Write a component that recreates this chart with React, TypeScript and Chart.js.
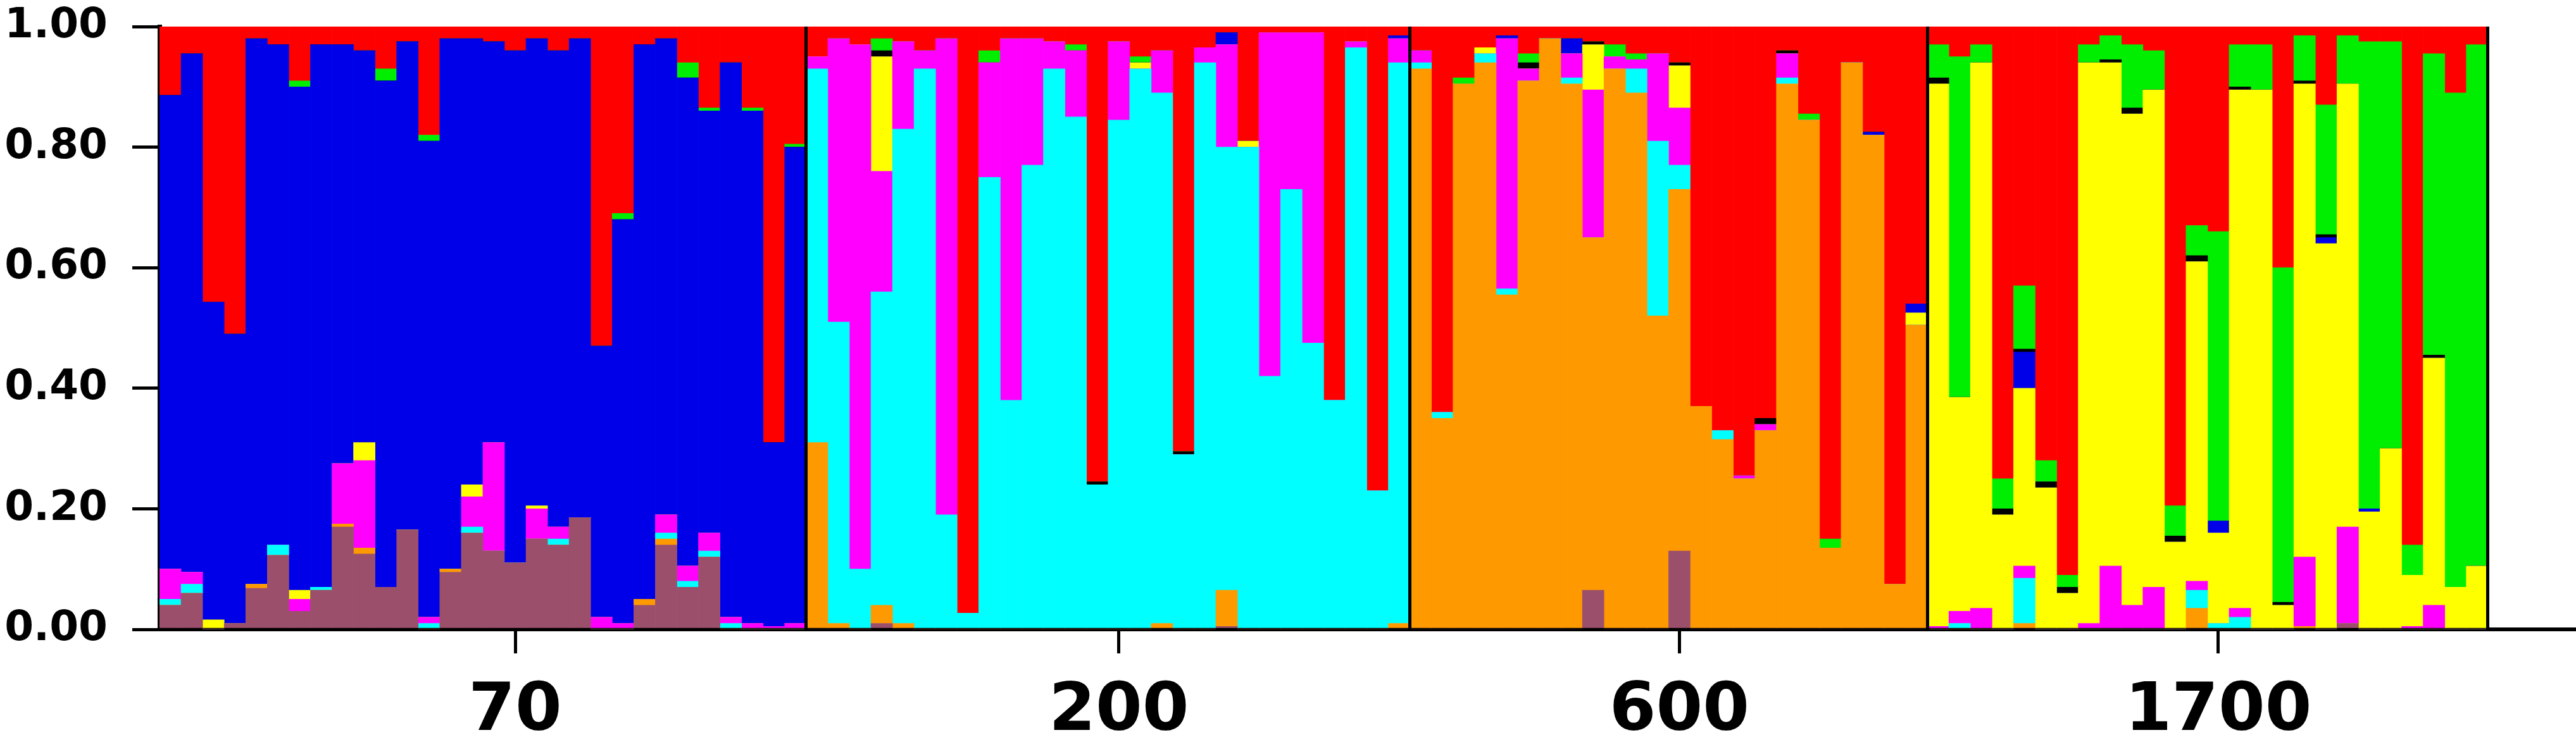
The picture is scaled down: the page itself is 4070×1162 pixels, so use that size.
import React, { useRef, useEffect } from 'react';
import { Chart, registerables } from 'chart.js';

Chart.register(...registerables);

// membership coefficients per individual, bottom cluster first
const brown70 = [.04, .06, 0, .01, .068, .123, .03, .065, .17, .125, .07, .165, 0, .095, .16, .13, .11, .15, .14, .185, 0, 0, .04, .14, .07, .12, 0, 0, 0, 0];
const orange70 = [0, 0, 0, 0, .007, 0, 0, 0, .005, .01, 0, 0, 0, .005, 0, 0, 0, 0, 0, 0, 0, 0, .01, .01, 0, 0, 0, 0, 0, 0];
const cyan70 = [.01, .015, 0, 0, 0, .017, 0, .005, 0, 0, 0, 0, .01, 0, .01, 0, 0, 0, .01, 0, 0, 0, 0, .01, .01, .01, .01, 0, 0, 0];
const pink70 = [.05, .02, 0, 0, 0, 0, .02, 0, .10, .145, 0, 0, .01, 0, .05, .18, 0, .05, .02, 0, .02, .01, 0, .03, .025, .03, .01, .01, .005, .01];
const yellow70 = [0, 0, .016, 0, 0, 0, .015, 0, 0, .03, 0, 0, 0, 0, .02, 0, 0, .005, 0, 0, 0, 0, 0, 0, 0, 0, 0, 0, 0, 0];
const blue70 = [.786, .86, .527, .48, .905, .83, .835, .90, .695, .65, .84, .81, .79, .88, .74, .665, .85, .775, .79, .795, .45, .67, .92, .79, .81, .70, .92, .85, .305, .79];
const black70 = [0, 0, 0, 0, 0, 0, 0, 0, 0, 0, 0, 0, 0, 0, 0, 0, 0, 0, 0, 0, 0, 0, 0, 0, 0, 0, 0, 0, 0, 0];
const green70 = [0, 0, 0, 0, 0, 0, .01, 0, 0, 0, .02, 0, .01, 0, 0, 0, 0, 0, 0, 0, 0, .01, 0, 0, .025, .005, 0, .005, 0, .005];
const red70 = [.114, .045, .457, .51, .02, .03, .09, .03, .03, .04, .07, .025, .18, .02, .02, .025, .04, .02, .04, .02, .53, .31, .03, .02, .06, .135, .06, .135, .69, .195];

const brown200 = [0, 0, 0, .01, 0, 0, 0, 0, 0, 0, 0, 0, 0, 0, 0, 0, 0, 0, 0, .005, 0, 0, 0, 0, 0, 0, 0, 0];
const orange200 = [.31, .01, 0, .03, .01, 0, 0, 0, 0, 0, 0, 0, 0, 0, 0, 0, .01, 0, 0, .06, 0, 0, 0, 0, 0, 0, 0, .01];
const cyan200 = [.62, .50, .10, .52, .82, .93, .19, .027, .75, .38, .77, .93, .85, .24, .845, .93, .88, .29, .94, .735, .80, .42, .73, .475, .38, .965, .23, .93];
const pink200 = [.02, .47, .87, .20, .145, .03, .79, 0, .19, .60, .21, .045, .11, 0, .13, 0, .07, 0, .025, .17, 0, .57, .26, .515, 0, .01, 0, .04];
const yellow200 = [0, 0, 0, .19, 0, 0, 0, 0, 0, 0, 0, 0, 0, 0, 0, .01, 0, 0, 0, 0, .01, 0, 0, 0, 0, 0, 0, 0];
const blue200 = [0, 0, 0, 0, 0, 0, 0, 0, 0, 0, 0, 0, 0, 0, 0, 0, 0, 0, 0, .02, 0, 0, 0, 0, 0, 0, 0, .005];
const black200 = [0, 0, 0, .01, 0, 0, 0, 0, 0, 0, 0, 0, 0, .005, 0, 0, 0, .005, 0, 0, 0, 0, 0, 0, 0, 0, 0, 0];
const green200 = [0, 0, 0, .02, 0, 0, 0, 0, .02, 0, 0, 0, .01, 0, 0, .01, 0, 0, 0, 0, 0, 0, 0, 0, 0, 0, 0, 0];
const red200 = [.05, .02, .03, .02, .025, .04, .02, .973, .04, .02, .02, .025, .03, .755, .025, .05, .04, .705, .035, .01, .19, .01, .01, .01, .62, .025, .77, .015];

const brown600 = [0, 0, 0, 0, 0, 0, 0, 0, .065, 0, 0, 0, .13, 0, 0, 0, 0, 0, 0, 0, 0, 0, 0, 0];
const orange600 = [.93, .35, .905, .94, .555, .91, .98, .905, .585, .93, .89, .52, .60, .37, .315, .25, .33, .905, .845, .135, .94, .82, .075, .505];
const cyan600 = [.01, .01, 0, .015, .01, 0, 0, .01, 0, 0, .04, .29, .04, 0, .015, 0, 0, .01, 0, 0, 0, 0, 0, 0];
const pink600 = [.02, 0, 0, 0, .415, .02, 0, .04, .245, .02, .015, .145, .095, 0, 0, .005, .01, .04, 0, 0, 0, 0, 0, 0];
const yellow600 = [0, 0, 0, .01, 0, 0, 0, 0, .075, 0, 0, 0, .07, 0, 0, 0, 0, 0, 0, 0, 0, 0, 0, .02];
const blue600 = [0, 0, 0, 0, .005, 0, 0, .025, 0, 0, 0, 0, 0, 0, 0, 0, 0, 0, 0, 0, 0, .005, 0, .015];
const black600 = [0, 0, 0, 0, 0, .01, 0, 0, .005, 0, 0, 0, .005, 0, 0, 0, .01, .005, 0, 0, 0, 0, 0, 0];
const green600 = [0, 0, .01, 0, 0, .015, 0, 0, 0, .02, .01, 0, 0, 0, 0, 0, 0, 0, .01, .015, 0, 0, 0, 0];
const red600 = [.04, .64, .085, .035, .015, .045, .02, .02, .025, .03, .045, .045, .06, .63, .67, .745, .65, .04, .145, .85, .06, .175, .925, .46];

const brown1700 = [0, 0, 0, 0, 0, 0, 0, 0, 0, 0, 0, 0, 0, 0, 0, 0, 0, 0, 0, .01, 0, 0, 0, 0, 0, 0];
const orange1700 = [0, 0, 0, 0, .01, 0, 0, 0, 0, 0, 0, 0, .035, 0, 0, 0, 0, .005, 0, 0, 0, 0, 0, 0, 0, 0];
const cyan1700 = [0, .01, 0, 0, .075, 0, 0, 0, 0, 0, 0, 0, .03, .01, .02, 0, 0, 0, 0, 0, 0, 0, 0, 0, 0, 0];
const pink1700 = [.005, .02, .035, 0, .02, 0, 0, .01, .105, .04, .07, 0, .015, 0, .015, 0, 0, .115, 0, .16, 0, 0, .005, .04, 0, 0];
const yellow1700 = [.90, .355, .905, .19, .295, .235, .06, .93, .835, .815, .825, .145, .53, .15, .86, .895, .04, .785, .64, .735, .195, .30, .085, .41, .07, .105];
const blue1700 = [0, 0, 0, 0, .06, 0, 0, 0, 0, 0, 0, 0, 0, .02, 0, 0, 0, 0, .01, 0, .005, 0, 0, 0, 0, 0];
const black1700 = [.01, 0, 0, .01, .005, .01, .01, 0, .005, .01, 0, .01, .01, 0, .005, 0, .005, .005, .005, 0, 0, 0, 0, .005, 0, 0];
const green1700 = [.055, .565, .03, .05, .105, .035, .02, .03, .04, .105, .065, .05, .05, .48, .07, .075, .555, .075, .215, .08, .775, .675, .05, .50, .82, .865];
const red1700 = [.03, .05, .03, .75, .43, .72, .91, .03, .015, .03, .04, .795, .33, .34, .03, .03, .40, .015, .13, .015, .025, .025, .86, .045, .11, .03];

const populations = ['70', '200', '600', '1700'];
const popSizes = [30, 28, 24, 26];
const popLabelAt = [16, 44, 70, 95];
const extraSlots = 4;
const yTicks = [0, 0.2, 0.4, 0.6, 0.8, 1.0];

const clusters = [
  { name: 'K1', color: '#9b4f6b', data: [...brown70, ...brown200, ...brown600, ...brown1700] },
  { name: 'K2', color: '#ff9900', data: [...orange70, ...orange200, ...orange600, ...orange1700] },
  { name: 'K3', color: '#00ffff', data: [...cyan70, ...cyan200, ...cyan600, ...cyan1700] },
  { name: 'K4', color: '#ff00ff', data: [...pink70, ...pink200, ...pink600, ...pink1700] },
  { name: 'K5', color: '#ffff00', data: [...yellow70, ...yellow200, ...yellow600, ...yellow1700] },
  { name: 'K6', color: '#0000e8', data: [...blue70, ...blue200, ...blue600, ...blue1700] },
  { name: 'K7', color: '#000000', data: [...black70, ...black200, ...black600, ...black1700] },
  { name: 'K8', color: '#00ee00', data: [...green70, ...green200, ...green600, ...green1700] },
  { name: 'K9', color: '#ff0000', data: [...red70, ...red200, ...red600, ...red1700] },
];

const App: React.FC = () => {
  const chartRef = useRef<HTMLCanvasElement | null>(null);
  const chartInstanceRef = useRef<Chart | null>(null);

  useEffect(() => {
    if (!chartRef.current) return;
    if (chartInstanceRef.current) {
      chartInstanceRef.current.destroy();
      chartInstanceRef.current = null;
    }

    const total = popSizes.reduce((a, b) => a + b, 0);
    const labels: string[] = [];
    for (let i = 0; i < total + extraSlots; i++) labels.push('');
    popLabelAt.forEach((idx, p) => { labels[idx] = populations[p]; });

    // boundaries between populations (and the end of the last one)
    const bounds: number[] = [];
    let acc = 0;
    popSizes.forEach((n) => { acc += n; bounds.push(acc); });

    const font = 'DejaVu Sans, sans-serif';

    chartInstanceRef.current = new Chart(chartRef.current, {
      type: 'bar',
      data: {
        labels,
        datasets: clusters.map((c) => ({
          label: c.name,
          data: c.data,
          backgroundColor: c.color,
          borderWidth: 0,
          barPercentage: 1,
          categoryPercentage: 1,
          xAxisID: 'x',
          yAxisID: 'y',
        })),
      },
      options: {
        animation: false,
        responsive: true,
        maintainAspectRatio: false,
        devicePixelRatio: 1,
        layout: { padding: { left: 0, top: 42, right: 3, bottom: 0 } },
        plugins: {
          legend: { display: false },
          tooltip: { enabled: false },
        },
        scales: {
          x: {
            type: 'category',
            stacked: true,
            offset: true,
            afterFit: (axis: any) => {
              axis.height = 167;
              axis.paddingLeft = 0;
              axis.paddingRight = 0;
            },
            grid: {
              offset: false,
              drawOnChartArea: false,
              tickLength: 38,
              lineWidth: 5,
              tickColor: (ctx: any) => (labels[ctx.index] ? '#000' : 'rgba(0,0,0,0)'),
              color: 'rgba(0,0,0,0)',
            },
            border: { display: true, color: '#000', width: 6 },
            ticks: {
              autoSkip: false,
              maxRotation: 0,
              padding: 40,
              color: '#000',
              font: { family: font, size: 106, weight: 'bold', lineHeight: 1 },
            },
          },
          x2: {
            type: 'category',
            position: 'top',
            offset: true,
            afterFit: (axis: any) => {
              axis.height = 0;
              axis.paddingLeft = 0;
              axis.paddingRight = 0;
            },
            grid: {
              offset: true,
              drawOnChartArea: true,
              drawTicks: false,
              z: 1,
              lineWidth: 5,
              color: (ctx: any) => (bounds.includes(ctx.index) ? '#000' : 'rgba(0,0,0,0)'),
            },
            border: { display: false },
            ticks: { display: false },
          },
          y: {
            stacked: true,
            min: 0,
            max: 1,
            afterFit: (axis: any) => {
              axis.width = 252;
              axis.paddingTop = 0;
              axis.paddingBottom = 0;
            },
            afterBuildTicks: (axis: any) => {
              axis.ticks = yTicks.map((v) => ({ value: v }));
            },
            grid: {
              drawOnChartArea: false,
              tickLength: 43,
              lineWidth: 5,
              tickColor: '#000',
            },
            border: { display: true, color: '#000', width: 7 },
            ticks: {
              padding: 39,
              color: '#000',
              font: { family: font, size: 66, weight: 'bold', lineHeight: 1 },
              callback: (v: any) => Number(v).toFixed(2),
            },
          },
        },
      },
    });

    return () => {
      if (chartInstanceRef.current !== null) {
        chartInstanceRef.current.destroy();
        chartInstanceRef.current = null;
      }
    };
  }, []);

  return (
    <div style={{ position: 'absolute', left: 0, top: 0, width: 4070, height: 1162, background: '#fff' }}>
      <canvas ref={chartRef}></canvas>
    </div>
  );
};

export default App;
